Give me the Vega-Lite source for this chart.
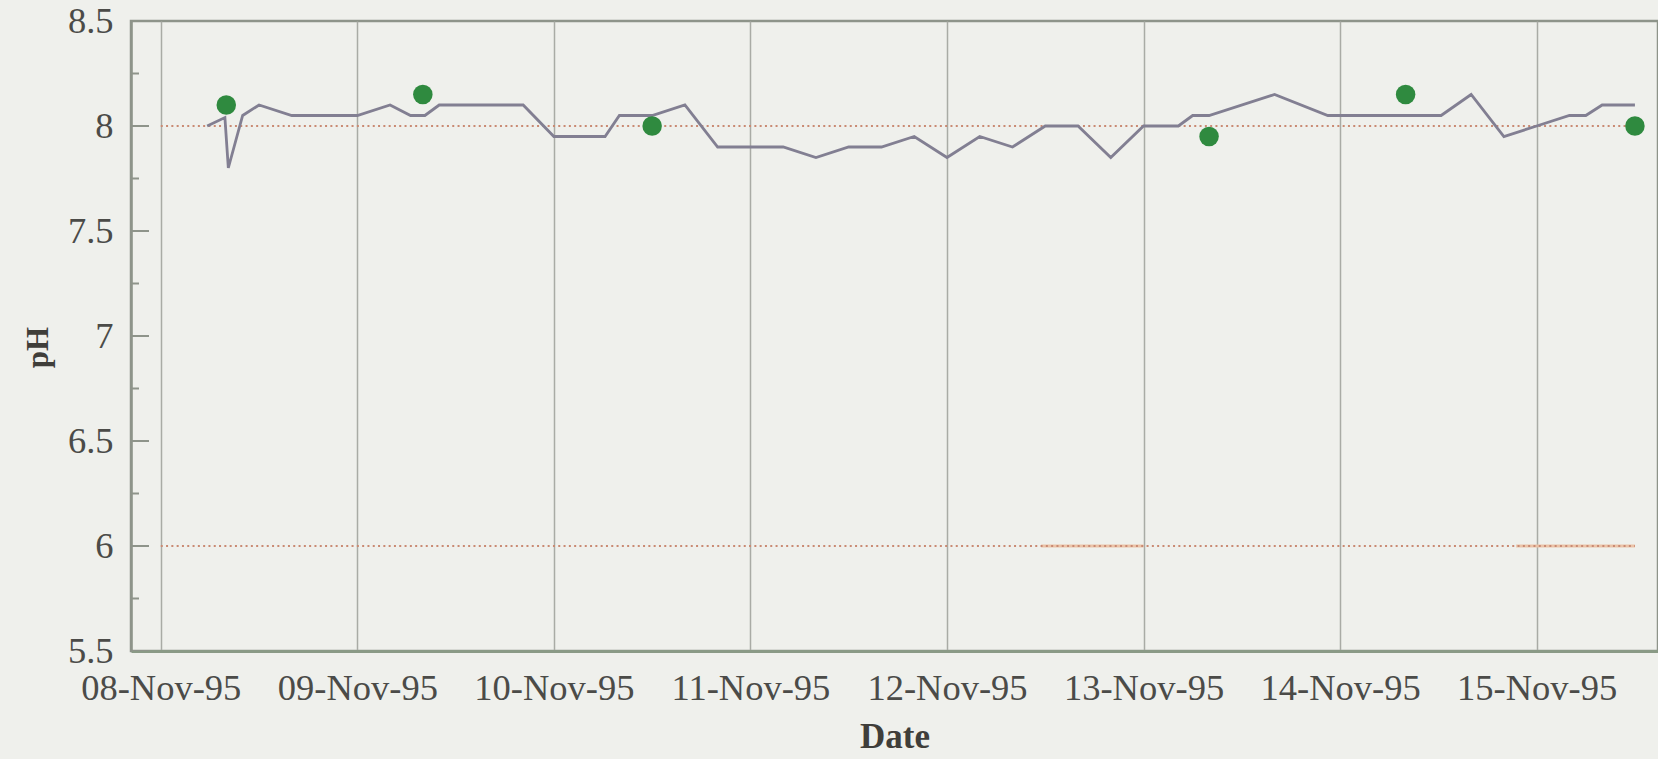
{
  "$schema": "https://vega.github.io/schema/vega-lite/v6.json",
  "width": 1527,
  "height": 630,
  "autosize": {"type": "none"},
  "padding": {"left": 131, "top": 21, "right": 0, "bottom": 108},
  "background": "#eff0ec",
  "config": {
    "font": "Liberation Serif",
    "view": {"stroke": "#8e948a", "strokeWidth": 2.5}
  },
  "datasets": {
    "series": [
      {"t": "1995-11-08T05:40:00", "ph": 8.00},
      {"t": "1995-11-08T07:50:00", "ph": 8.04},
      {"t": "1995-11-08T08:15:00", "ph": 7.80},
      {"t": "1995-11-08T10:00:00", "ph": 8.05},
      {"t": "1995-11-08T12:00:00", "ph": 8.10},
      {"t": "1995-11-08T16:00:00", "ph": 8.05},
      {"t": "1995-11-08T20:00:00", "ph": 8.05},
      {"t": "1995-11-09T00:00:00", "ph": 8.05},
      {"t": "1995-11-09T04:00:00", "ph": 8.10},
      {"t": "1995-11-09T06:30:00", "ph": 8.05},
      {"t": "1995-11-09T08:15:00", "ph": 8.05},
      {"t": "1995-11-09T10:00:00", "ph": 8.10},
      {"t": "1995-11-09T12:00:00", "ph": 8.10},
      {"t": "1995-11-09T16:00:00", "ph": 8.10},
      {"t": "1995-11-09T20:15:00", "ph": 8.10},
      {"t": "1995-11-10T00:00:00", "ph": 7.95},
      {"t": "1995-11-10T04:00:00", "ph": 7.95},
      {"t": "1995-11-10T06:15:00", "ph": 7.95},
      {"t": "1995-11-10T08:00:00", "ph": 8.05},
      {"t": "1995-11-10T12:00:00", "ph": 8.05},
      {"t": "1995-11-10T16:00:00", "ph": 8.10},
      {"t": "1995-11-10T20:00:00", "ph": 7.90},
      {"t": "1995-11-11T00:00:00", "ph": 7.90},
      {"t": "1995-11-11T04:00:00", "ph": 7.90},
      {"t": "1995-11-11T08:00:00", "ph": 7.85},
      {"t": "1995-11-11T12:00:00", "ph": 7.90},
      {"t": "1995-11-11T16:00:00", "ph": 7.90},
      {"t": "1995-11-11T20:00:00", "ph": 7.95},
      {"t": "1995-11-12T00:00:00", "ph": 7.85},
      {"t": "1995-11-12T04:00:00", "ph": 7.95},
      {"t": "1995-11-12T08:00:00", "ph": 7.90},
      {"t": "1995-11-12T12:00:00", "ph": 8.00},
      {"t": "1995-11-12T16:00:00", "ph": 8.00},
      {"t": "1995-11-12T20:00:00", "ph": 7.85},
      {"t": "1995-11-13T00:00:00", "ph": 8.00},
      {"t": "1995-11-13T04:15:00", "ph": 8.00},
      {"t": "1995-11-13T06:00:00", "ph": 8.05},
      {"t": "1995-11-13T08:00:00", "ph": 8.05},
      {"t": "1995-11-13T16:00:00", "ph": 8.15},
      {"t": "1995-11-13T22:30:00", "ph": 8.05},
      {"t": "1995-11-14T00:00:00", "ph": 8.05},
      {"t": "1995-11-14T04:00:00", "ph": 8.05},
      {"t": "1995-11-14T08:00:00", "ph": 8.05},
      {"t": "1995-11-14T12:20:00", "ph": 8.05},
      {"t": "1995-11-14T16:00:00", "ph": 8.15},
      {"t": "1995-11-14T20:00:00", "ph": 7.95},
      {"t": "1995-11-15T00:00:00", "ph": 8.00},
      {"t": "1995-11-15T04:00:00", "ph": 8.05},
      {"t": "1995-11-15T06:00:00", "ph": 8.05},
      {"t": "1995-11-15T08:00:00", "ph": 8.10},
      {"t": "1995-11-15T12:00:00", "ph": 8.10}
    ],
    "samples": [
      {"t": "1995-11-08T08:00:00", "ph": 8.10},
      {"t": "1995-11-09T08:00:00", "ph": 8.15},
      {"t": "1995-11-10T12:00:00", "ph": 8.00},
      {"t": "1995-11-13T08:00:00", "ph": 7.95},
      {"t": "1995-11-14T08:00:00", "ph": 8.15},
      {"t": "1995-11-15T12:00:00", "ph": 8.00}
    ],
    "limits": [
      {"start": "1995-11-08T00:00:00", "end": "1995-11-15T12:00:00", "value": 8},
      {"start": "1995-11-08T00:00:00", "end": "1995-11-15T12:00:00", "value": 6}
    ],
    "limitSolid": [
      {"start": "1995-11-12T11:30:00", "end": "1995-11-13T00:00:00", "value": 6},
      {"start": "1995-11-14T21:30:00", "end": "1995-11-15T12:00:00", "value": 6}
    ],
    "yticks": [
      {"v": 5.5}, {"v": 5.75}, {"v": 6}, {"v": 6.25}, {"v": 6.5}, {"v": 6.75}, {"v": 7},
      {"v": 7.25}, {"v": 7.5}, {"v": 7.75}, {"v": 8}, {"v": 8.25}, {"v": 8.5}
    ]
  },
  "layer": [
    {
      "data": {"name": "limitSolid"},
      "mark": {"type": "rule", "color": "#ebc3a8", "strokeWidth": 3},
      "encoding": {
        "x": {"field": "start", "type": "temporal"},
        "x2": {"field": "end"},
        "y": {"field": "value", "type": "quantitative"}
      }
    },
    {
      "data": {"name": "limits"},
      "mark": {"type": "rule", "color": "#c98a73", "strokeWidth": 2, "strokeDash": [2, 3.3]},
      "encoding": {
        "x": {"field": "start", "type": "temporal"},
        "x2": {"field": "end"},
        "y": {"field": "value", "type": "quantitative"}
      }
    },
    {
      "data": {"name": "yticks"},
      "mark": {"type": "tick", "orient": "horizontal", "color": "#8e948a", "thickness": 2, "opacity": 1, "clip": true},
      "encoding": {
        "x": {"datum": {"year": 1995, "month": 11, "date": 7, "hours": 20, "minutes": 22}, "type": "temporal"},
        "y": {"field": "v", "type": "quantitative"},
        "size": {"condition": {"test": "datum.v % 0.5 === 0", "value": 36}, "value": 16}
      }
    },
    {
      "data": {"name": "series"},
      "mark": {"type": "line", "color": "#827f92", "strokeWidth": 2.8},
      "encoding": {
        "x": {
          "field": "t",
          "type": "temporal",
          "scale": {
            "domain": [
              {"year": 1995, "month": 11, "date": 7, "hours": 20, "minutes": 22},
              {"year": 1995, "month": 11, "date": 15, "hours": 14, "minutes": 49}
            ]
          },
          "axis": {
            "title": "Date",
            "values": [
              {"year": 1995, "month": 11, "date": 8},
              {"year": 1995, "month": 11, "date": 9},
              {"year": 1995, "month": 11, "date": 10},
              {"year": 1995, "month": 11, "date": 11},
              {"year": 1995, "month": 11, "date": 12},
              {"year": 1995, "month": 11, "date": 13},
              {"year": 1995, "month": 11, "date": 14},
              {"year": 1995, "month": 11, "date": 15}
            ],
            "format": "%d-%b-%y",
            "grid": true,
            "gridColor": "#a9aba5",
            "gridWidth": 1.5,
            "gridOpacity": 1,
            "ticks": false,
            "domainColor": "#8a9a86",
            "domainWidth": 3,
            "labelFont": "Liberation Serif",
            "labelFontSize": 36.5,
            "labelColor": "#4b4b48",
            "labelPadding": 19,
            "labelFlush": false,
            "labelOverlap": false,
            "titleFont": "Liberation Serif",
            "titleFontSize": 35,
            "titleFontWeight": "bold",
            "titleColor": "#3f3e3a",
            "titlePadding": 13
          }
        },
        "y": {
          "field": "ph",
          "type": "quantitative",
          "scale": {"domain": [5.5, 8.5], "nice": false, "zero": false},
          "axis": {
            "title": "pH",
            "values": [5.5, 6, 6.5, 7, 7.5, 8, 8.5],
            "labelExpr": "format(datum.value, '~g')",
            "grid": false,
            "domainColor": "#8e948a",
            "domainWidth": 2.5,
            "ticks": false,
            "labelFont": "Liberation Serif",
            "labelFontSize": 36.5,
            "labelColor": "#4b4b48",
            "labelPadding": 18,
            "labelFlush": false,
            "labelOverlap": false,
            "titleFont": "Liberation Serif",
            "titleFontSize": 31,
            "titleFontWeight": "bold",
            "titleColor": "#3f3e3a",
            "titleAngle": 270,
            "titleX": -84,
            "titleY": 326,
            "titleAlign": "center",
            "titleBaseline": "alphabetic"
          }
        }
      }
    },
    {
      "data": {"name": "samples"},
      "mark": {"type": "point", "filled": true, "shape": "circle", "size": 380, "color": "#2f8a3f", "opacity": 1},
      "encoding": {
        "x": {"field": "t", "type": "temporal"},
        "y": {"field": "ph", "type": "quantitative"}
      }
    }
  ]
}
